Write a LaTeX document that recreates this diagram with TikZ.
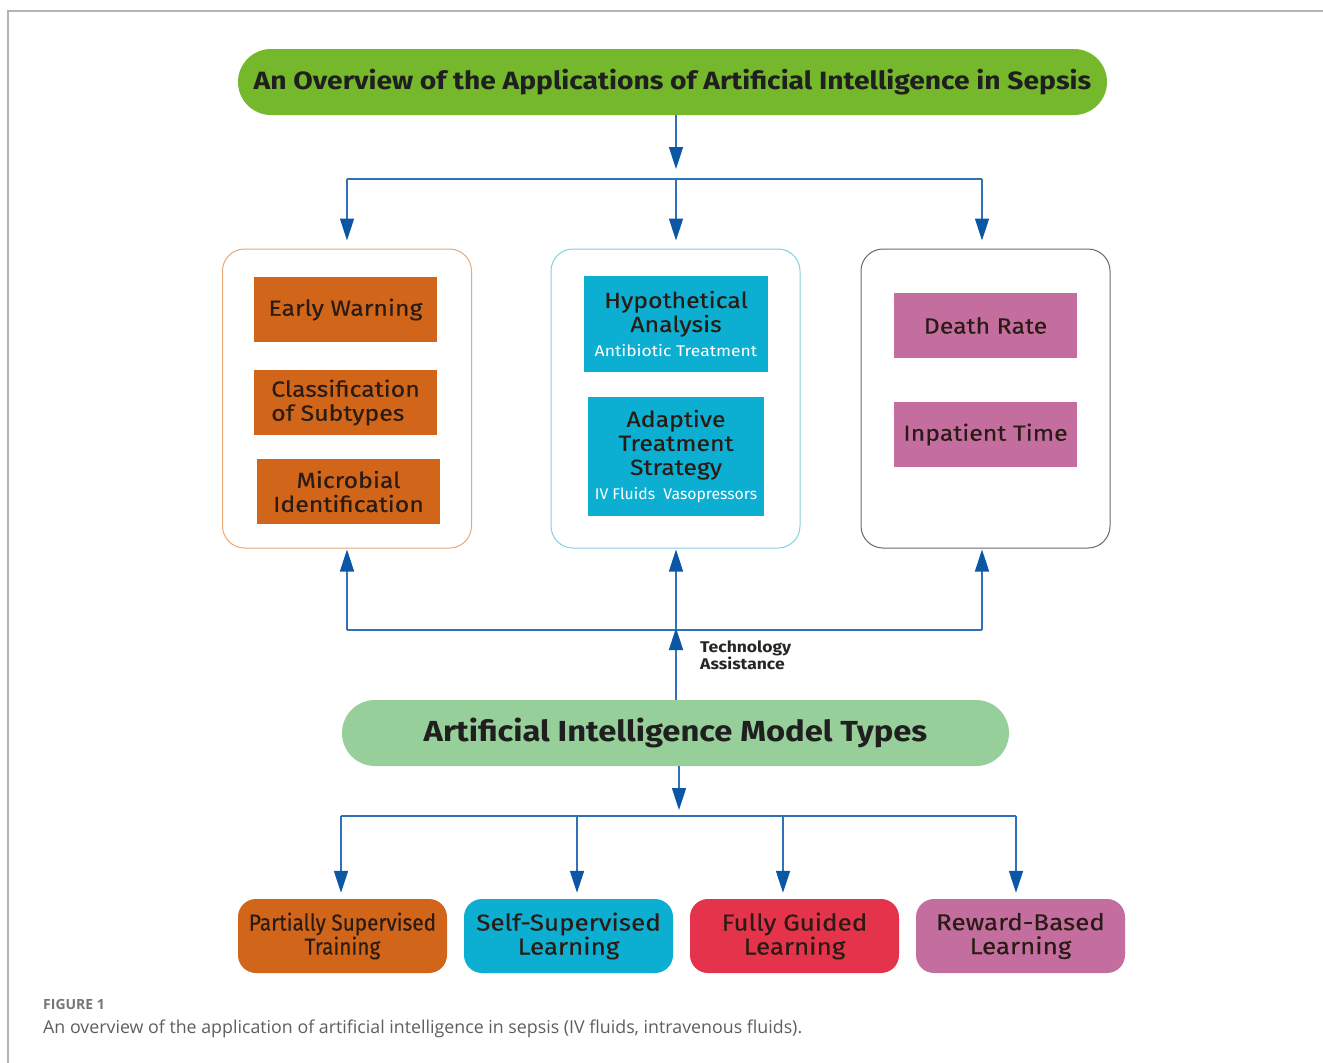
\documentclass[tikz,border=0pt]{standalone}
\usepackage{fontspec}
\usepackage{graphicx}
\usetikzlibrary{arrows.meta,calc}
\newfontfamily\diagfont[FakeStretch=1.13]{Fira Sans}
\newfontfamily\itemfont[FakeStretch=1.13,FakeBold=0.3]{Fira Sans}
\newfontfamily\capfont{Open Sans}

\definecolor{titlegreen}{HTML}{75B82B}
\definecolor{aigreen}{HTML}{97CF9B}
\definecolor{boxorange}{HTML}{D1661A}
\definecolor{boxcyan}{HTML}{0CAFD2}
\definecolor{boxpink}{HTML}{C46EA0}
\definecolor{boxred}{HTML}{E4334B}
\definecolor{rimorange}{HTML}{E9A877}
\definecolor{rimcyan}{HTML}{86CFE0}
\definecolor{rimgray}{HTML}{6A6A6A}
\definecolor{linkblue}{HTML}{2F72BA}
\definecolor{tipblue}{HTML}{0B57A6}
\definecolor{inktext}{HTML}{2A1C14}
\definecolor{framegray}{HTML}{B4B4B4}
\definecolor{capgray}{HTML}{5E5E5E}

\tikzset{
  link/.style={draw=linkblue, line width=1.6pt},
  arr/.style={link, -{Triangle[length=22pt,width=14pt,color=tipblue]}},
  pill/.style={rounded corners=33pt, minimum height=66pt, inner sep=0pt,
    text=black!88},
  group/.style={draw, line width=1pt, rounded corners=22pt, minimum width=249pt,
    minimum height=299pt, fill=white},
  item/.style={minimum width=183pt, minimum height=65pt, inner sep=0pt,
    text=inktext, align=center, font=\itemfont\fontsize{22}{24}\selectfont},
  model/.style={rounded corners=18pt, minimum width=209pt, minimum height=74pt,
    inner sep=0pt, text=inktext, align=center,
    font=\itemfont\fontsize{23}{24}\selectfont}
}
\newcommand{\subnote}[1]{{\diagfont\fontsize{15.5}{17}\selectfont\color{white}#1}}

\begin{document}
\begin{tikzpicture}[x=1pt,y=-1pt]
\useasboundingbox (0,0) rectangle (1323,1063);
% page frame
\draw[framegray, line width=1.2pt] (1323,11) -- (8,11) -- (8,1063);

% headline
\node[pill, fill=titlegreen, minimum width=869pt, font=\diagfont\bfseries\fontsize{25}{28}\selectfont]
  (title) at (672.5,82) {An Overview of the Applications of Artificial Intelligence in Sepsis};

% three application groups
\node[group, draw=rimorange] (boxL) at (347,398.5) {};
\node[group, draw=rimcyan] (boxM) at (675.5,398.5) {};
\node[group, draw=rimgray] (boxR) at (985.5,398.5) {};

\node[item, fill=boxorange] (warn) at (345.5,309.5) {Early Warning};
\node[item, fill=boxorange, align=left] (subtype) at (345.5,402.5) {Classification\\of Subtypes};
\node[item, fill=boxorange] (microbe) at (348.5,491.5) {Microbial\\Identification};

\node[item, fill=boxcyan, minimum width=184pt, minimum height=96pt] (hypo) at (676,324)
  {Hypothetical\\Analysis\\[1pt]\subnote{Antibiotic Treatment}};
\node[item, fill=boxcyan, minimum width=176pt, minimum height=119pt] (adapt) at (676,456.5)
  {Adaptive\\Treatment\\Strategy\\[1pt]\scalebox{0.9}[1]{\subnote{IV Fluids\ \ Vasopressors}}};

\node[item, fill=boxpink] (death) at (985.5,325.5) {Death Rate};
\node[item, fill=boxpink] (stay) at (985.5,434.5) {Inpatient Time};

% fan-out from the headline
\coordinate (tM) at (676,179);
\coordinate (tL) at (347,179);
\coordinate (tR) at (982,179);
\draw[link] (tL) -- (tR);
\draw[arr, shorten >=10pt] (title.south -| tM) -- (tM);
\draw[arr, shorten >=8pt] (tL) -- (tL |- boxL.north);
\draw[arr, shorten >=8pt] (tM) -- (tM |- boxM.north);
\draw[arr, shorten >=8pt] (tR) -- (tR |- boxR.north);

% model types
\node[pill, fill=aigreen, minimum width=667pt, font=\diagfont\bfseries\fontsize{29}{32}\selectfont]
  (ai) at (675.5,733) {Artificial Intelligence Model Types};

% technology assistance feeding the groups
\coordinate (bM) at (676,630);
\coordinate (bL) at (347,630);
\coordinate (bR) at (982,630);
\draw[link] (bL) -- (bR);
\draw[arr, shorten >=-2pt] (ai.north -| bM) -- (bM);
\draw[arr, shorten >=1pt] (bL) -- (bL |- boxL.south);
\draw[arr, shorten >=1pt] (bM) -- (bM |- boxM.south);
\draw[arr, shorten >=1pt] (bR) -- (bR |- boxR.south);
\node[anchor=north west, align=left, inner sep=0pt, text=black!85,
  font=\diagfont\bfseries\fontsize{15.5}{16}\selectfont] (assist) at (700,641)
  {Technology\\Assistance};

% learning paradigms
\node[model, fill=boxorange] (semi) at (342.5,936)
  {\scalebox{0.8}[1]{Partially Supervised}\\\scalebox{0.8}[1]{Training}};
\node[model, fill=boxcyan] (self) at (568.5,936) {Self-Supervised\\Learning};
\node[model, fill=boxred] (full) at (794.5,936) {Fully Guided\\Learning};
\node[model, fill=boxpink] (reward) at (1020.5,936) {Reward-Based\\Learning};

\coordinate (mS) at (679,816);
\coordinate (m1) at (341,816);
\coordinate (m2) at (577,816);
\coordinate (m3) at (783,816);
\coordinate (m4) at (1016,816);
\draw[link] (m1) -- (m4);
\draw[arr, shorten >=6pt] (ai.south -| mS) -- (mS);
\draw[arr, shorten >=6pt] (m1) -- (m1 |- semi.north);
\draw[arr, shorten >=6pt] (m2) -- (m2 |- self.north);
\draw[arr, shorten >=6pt] (m3) -- (m3 |- full.north);
\draw[arr, shorten >=6pt] (m4) -- (m4 |- reward.north);

% caption
\node[anchor=base west, inner sep=0pt, text=capgray!85,
  font=\capfont\bfseries\fontsize{14}{16}\selectfont] (fig) at (43,1009) {FIGURE 1};
\node[anchor=base west, inner sep=0pt, text=capgray,
  font=\capfont\fontsize{17.8}{20}\selectfont] (caption) at (43,1033)
  {An overview of the application of artificial intelligence in sepsis (IV fluids, intravenous fluids).};
\end{tikzpicture}
\end{document}
